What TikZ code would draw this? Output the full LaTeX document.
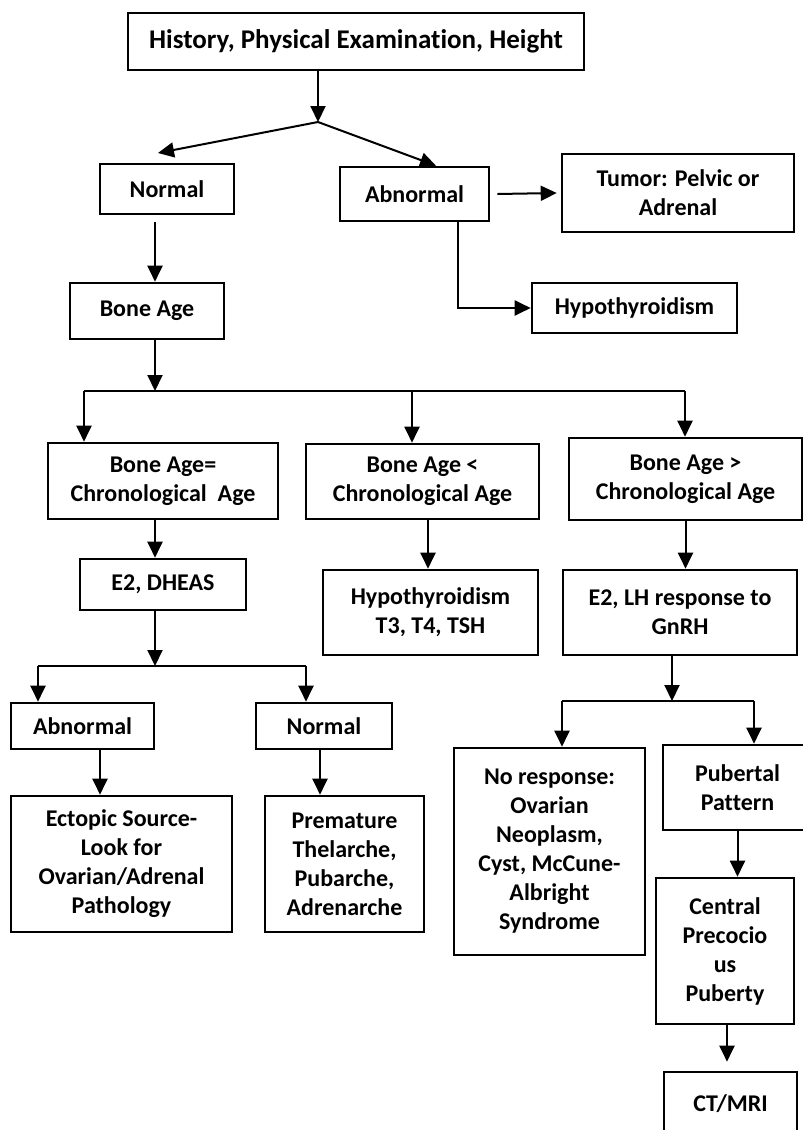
\documentclass[tikz,border=0pt]{standalone}
\usepackage{fontspec}
\setmainfont{Carlito}[Ligatures=NoCommon]
\usetikzlibrary{arrows.meta}

\begin{document}
\begin{tikzpicture}[x=0.5pt, y=-0.5pt,
	box/.style={draw, line width=1.3pt, align=center, inner sep=0pt, font=\bfseries\fontsize{12}{14.5}\selectfont},
	link/.style={line width=1pt},
	arr/.style={link, -{Triangle[width=7.5pt, length=8pt]}}]
	\useasboundingbox (0, 0) rectangle (803, 1130);
	\node [box, minimum width=228pt, minimum height=28.5pt, font=\bfseries\fontsize{13.5}{16}\selectfont] (hist) at (356, 41.5) {History, Physical Examination, Height};
	\node [box, minimum width=67pt, minimum height=25pt] (norm) at (167, 189) {Normal};
	\node [box, minimum width=74.5pt, minimum height=27pt] (abn) at (414.5, 194) {Abnormal};
	\node [box, minimum width=116pt, minimum height=39pt] (tumor) at (678, 193) {Tumor: Pelvic or\\Adrenal};
	\node [box, minimum width=102.5pt, minimum height=25pt] (hypo) at (634.5, 308) {Hypothyroidism};
	\node [box, minimum width=77pt, minimum height=28pt] (bone) at (147, 311) {Bone Age};
	\node [box, minimum width=115pt, minimum height=38pt] (baeq) at (163, 481) {Bone Age=\\Chronological\ \ Age};
	\node [box, minimum width=116.5pt, minimum height=37.5pt] (balt) at (422.5, 481.5) {Bone Age <\\Chronological Age};
	\node [box, minimum width=116.5pt, minimum height=41pt] (bagt) at (685.5, 479) {Bone Age >\\Chronological Age};
	\node [box, minimum width=83pt, minimum height=25.5pt] (dheas) at (163, 584.5) {E2, DHEAS};
	\node [box, minimum width=107.5pt, minimum height=42.5pt] (tsh) at (430.5, 612.5) {Hypothyroidism\\T3, T4, TSH};
	\node [box, minimum width=117pt, minimum height=42.5pt] (lh) at (680, 612.5) {E2, LH response to\\GnRH};
	\node [box, minimum width=71.5pt, minimum height=23pt] (abn2) at (82.5, 726) {Abnormal};
	\node [box, minimum width=68pt, minimum height=23pt] (norm2) at (324, 726) {Normal};
	\node [box, minimum width=110.5pt, minimum height=68pt] (ecto) at (121.5, 864) {Ectopic Source-\\Look for\\Ovarian/Adrenal\\Pathology};
	\node [box, minimum width=79.5pt, minimum height=68pt] (prem) at (344.5, 864) {Premature\\Thelarche,\\Pubarche,\\Adrenarche};
	\node [box, minimum width=95.5pt, minimum height=103.5pt] (noresp) at (549.5, 851.5) {No response:\\Ovarian\\Neoplasm,\\Cyst, McCune-\\Albright\\Syndrome};
	\node [box, minimum width=74.5pt, minimum height=42.5pt] (pub) at (737.5, 787.5) {Pubertal\\Pattern};
	\node [box, minimum width=69pt, minimum height=73pt] (cpp) at (725, 951) {Central\\Precocio\\us\\Puberty};
	\node [box, minimum width=66.5pt, minimum height=32pt] (ct) at (730.5, 1104) {CT/MRI};
	\coordinate (split) at (318, 122);
	\coordinate (normtip) at (158, 153);
	\draw [arr] (hist.south -| split) -- (split);
	\draw [arr] (split) -- (normtip);
	\draw [arr] (split) -- ([xshift=10.75pt]abn.north);
	\draw [arr] ([xshift=3.5pt]abn.east) -- ([xshift=-2pt]tumor.west);
	\draw [arr] ([xshift=21.75pt]abn.south) |- (hypo.west);
	\draw [arr] ([xshift=-6pt, yshift=-3.5pt]norm.south) -- ([xshift=4pt]bone.north);
	\coordinate (bsplit) at (155, 391);
	\coordinate (bl) at (84, 391);
	\coordinate (bm) at (412, 391);
	\coordinate (br) at (685, 391);
	\draw [arr] ([xshift=4pt]bone.south) -- (bsplit);
	\draw [link] (bl) -- (br);
	\draw [arr] (bl) -- (bl |- baeq.north);
	\draw [arr] (bm) -- (bm |- balt.north);
	\draw [arr] (br) -- (br |- bagt.north);
	\draw [arr] ([xshift=-4pt]baeq.south) -- ([xshift=-4pt]dheas.north);
	\draw [arr] ([xshift=2.75pt]balt.south) -- ([xshift=2.75pt]balt.south |- tsh.north);
	\draw [arr] (bagt.south) -- (bagt.south |- lh.north);
	\coordinate (dsplit) at (155, 666);
	\coordinate (dl) at (38, 666);
	\coordinate (dr) at (306, 666);
	\draw [arr] ([xshift=-4pt]dheas.south) -- (dsplit);
	\draw [link] (dl) -- (dr);
	\draw [arr] (dl) -- (dl |- abn2.north);
	\draw [arr] (dr) -- (dr |- norm2.north);
	\draw [arr] ([xshift=8.75pt]abn2.south) -- ([xshift=8.75pt]abn2.south |- ecto.north);
	\draw [arr] ([xshift=-2pt]norm2.south) -- ([xshift=-2pt]norm2.south |- prem.north);
	\coordinate (lsplit) at (672, 701);
	\coordinate (ll) at (562, 701);
	\coordinate (lr) at (754, 701);
	\draw [arr] ([xshift=-4pt]lh.south) -- (lsplit);
	\draw [link] (ll) -- (lr);
	\draw [arr] (ll) -- (ll |- noresp.north);
	\draw [arr] (lr) -- (lr |- pub.north);
	\draw [arr] (pub.south) -- (pub.south |- cpp.north);
	\draw [arr] ([xshift=1pt]cpp.south) -- ([xshift=1pt, yshift=4.5pt]cpp.south |- ct.north);
\end{tikzpicture}
\end{document}
